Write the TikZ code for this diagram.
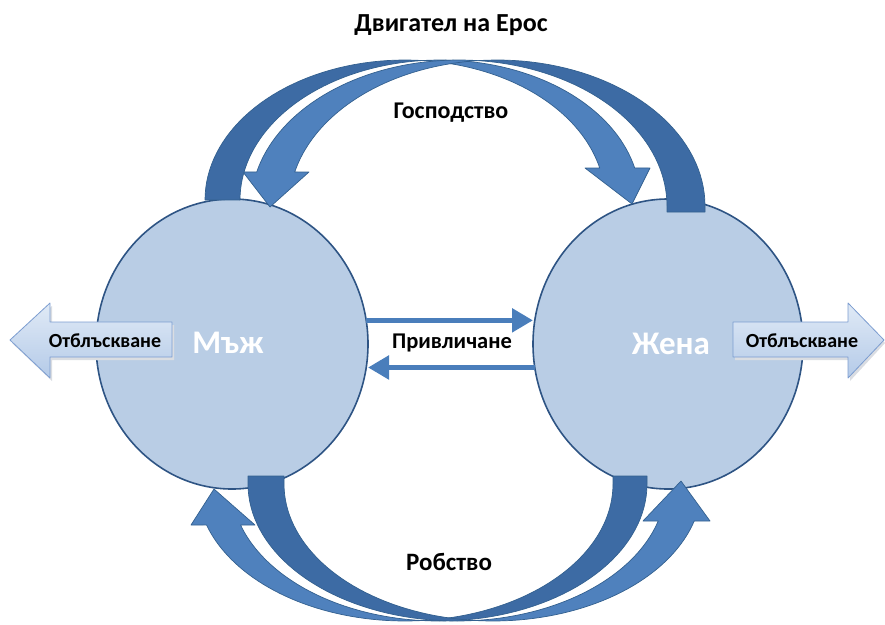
\documentclass[tikz,border=0pt]{standalone}
\usepackage{fontspec}
\setmainfont{Carlito}
\usetikzlibrary{calc,arrows.meta,shapes.geometric}
\definecolor{circfill}{HTML}{B9CDE5}
\definecolor{circline}{HTML}{2E5484}
\definecolor{bandlight}{HTML}{4F81BD}
\definecolor{banddark}{HTML}{3D6BA4}
\definecolor{bandline}{HTML}{33608F}
\definecolor{sidetop}{HTML}{E0EAF6}
\definecolor{sidebot}{HTML}{B4CAE8}
\definecolor{sideline}{HTML}{7C9DD0}
\definecolor{midblue}{HTML}{4A7EBB}
\definecolor{shadowgray}{HTML}{DADDE2}
\begin{document}
\begin{tikzpicture}[x=1pt,y=-1pt,
  circ/.style={ellipse, draw=circline, line width=1.6pt, fill=circfill, inner sep=0pt, outer sep=0pt},
  darkband/.style={fill=banddark, draw=bandline, line width=0.7pt, line join=round},
  lightband/.style={fill=bandlight, draw=bandline, line width=0.7pt, line join=round},
  sidearr/.style={top color=sidetop, bottom color=sidebot, draw=sideline, line width=0.8pt, line join=round},
  sideshadow/.style={fill=shadowgray},
  midarr/.style={draw=midblue, line width=5.5pt, -{Triangle[length=21pt,width=23pt]}},
  lbl/.style={font=\bfseries\fontsize{24}{28}\selectfont, text=black, inner sep=0pt},
  sidelbl/.style={font=\bfseries\fontsize{20}{24}\selectfont, text=black, inner sep=0pt},
  circlbl/.style={font=\bfseries\fontsize{33}{38}\selectfont, text=white, inner sep=0pt},
  pl/.style={domain=0:1, samples=40, variable=\t}]
\useasboundingbox (0,0) rectangle (885,624);

% circles
\node[circ, minimum width=272pt, minimum height=290pt] (man) at (232,344) {};
\node[circ, minimum width=270pt, minimum height=290pt] (woman) at (668,344) {};

% side arrows (with soft shadow)
\path[sideshadow] (12,343) -- (52,306) -- (52,325) -- (174,325) -- (174,360) -- (52,360) -- (52,381) -- cycle;
\path[sideshadow] (885,343) -- (850,306) -- (850,325) -- (735,325) -- (735,360) -- (850,360) -- (850,381) -- cycle;
\path[sidearr] (10,340) -- (50,303) -- (50,322) -- (172,322) -- (172,357) -- (50,357) -- (50,378) -- cycle;
\path[sidearr] (884,340) -- (848,303) -- (848,322) -- (733,322) -- (733,357) -- (848,357) -- (848,378) -- cycle;

% top arrows: light (front) parts
\filldraw[lightband] plot[pl] ({440+200*cos(264.98+81.81*\t)},{200+140*sin(264.98+81.81*\t)})
  -- (650,168) -- (632,204) -- (585,168)
  -- plot[pl] ({405+200*cos(346.79-71.77*\t)},{200+140*sin(346.79-71.77*\t)}) -- cycle;
\filldraw[lightband] plot[pl] ({459+208*cos(275.24-81.77*\t)},{206+146*sin(275.24-81.77*\t)})
  -- (243,172) -- (270,207) -- (309,172)
  -- plot[pl] ({497+208*cos(193.47+71.29*\t)},{206+146*sin(193.47+71.29*\t)}) -- cycle;
% top arrows: dark (back) parts
\filldraw[darkband] plot[pl] ({405+200*cos(180+95.02*\t)},{200+140*sin(180+95.02*\t)})
  -- plot[pl] ({440+200*cos(264.98-84.98*\t)},{200+140*sin(264.98-84.98*\t)}) -- cycle;
\filldraw[darkband] (667,212) -- plot[pl] ({459+208*cos(360-84.76*\t)},{206+146*sin(360-84.76*\t)})
  -- plot[pl] ({497+208*cos(264.76+95.24*\t)},{206+146*sin(264.76+95.24*\t)}) -- (705,212) -- cycle;

% bottom arrows: light parts
\filldraw[lightband] plot[pl] ({439+208*cos(94.69+67.9*\t)},{484+137*sin(94.69+67.9*\t)})
  -- (255,525) -- (214,489) -- (191,525)
  -- plot[pl] ({405+208*cos(162.59-77.28*\t)},{484+137*sin(162.59-77.28*\t)}) -- cycle;
\filldraw[lightband] plot[pl] ({457+209*cos(85.06-69.39*\t)},{484+137*sin(85.06-69.39*\t)})
  -- (643,521) -- (681,481) -- (710,521)
  -- plot[pl] ({493+209*cos(15.67+79.27*\t)},{484+137*sin(15.67+79.27*\t)}) -- cycle;
% bottom arrows: dark parts
\filldraw[darkband] (613,476) -- plot[pl] ({405+208*cos(85.31*\t)},{484+137*sin(85.31*\t)})
  -- plot[pl] ({439+208*cos(94.69-94.69*\t)},{484+137*sin(94.69-94.69*\t)}) -- (647,476) -- cycle;
\filldraw[darkband] (248,476) -- plot[pl] ({457+209*cos(180-94.94*\t)},{484+137*sin(180-94.94*\t)})
  -- plot[pl] ({493+209*cos(94.94+85.06*\t)},{484+137*sin(94.94+85.06*\t)}) -- (284,476) -- cycle;

% middle arrows
\draw[midarr] (man.10) -- (man.10 -| woman.west);
\draw[midarr] (woman.190) -- (woman.190 -| man.east);

% labels
\node[lbl, font=\bfseries\fontsize{26}{30}\selectfont] (title) at (451,25) {Двигател на Ерос};
\node[lbl] (dom) at (451,113) {Господство};
\node[lbl, font=\bfseries\fontsize{25}{29}\selectfont] (slav) at (449,562) {Робство};
\node[lbl, font=\bfseries\fontsize{22.5}{26}\selectfont] (attr) at (452,343) {Привличане};
\node[sidelbl] (repl) at (105,341) {Отблъскване};
\node[sidelbl] (repr) at (802,341) {Отблъскване};
\node[circlbl] (manlbl) at (228,343) {Мъж};
\node[circlbl] (womanlbl) at (671,344) {Жена};
\end{tikzpicture}
\end{document}
